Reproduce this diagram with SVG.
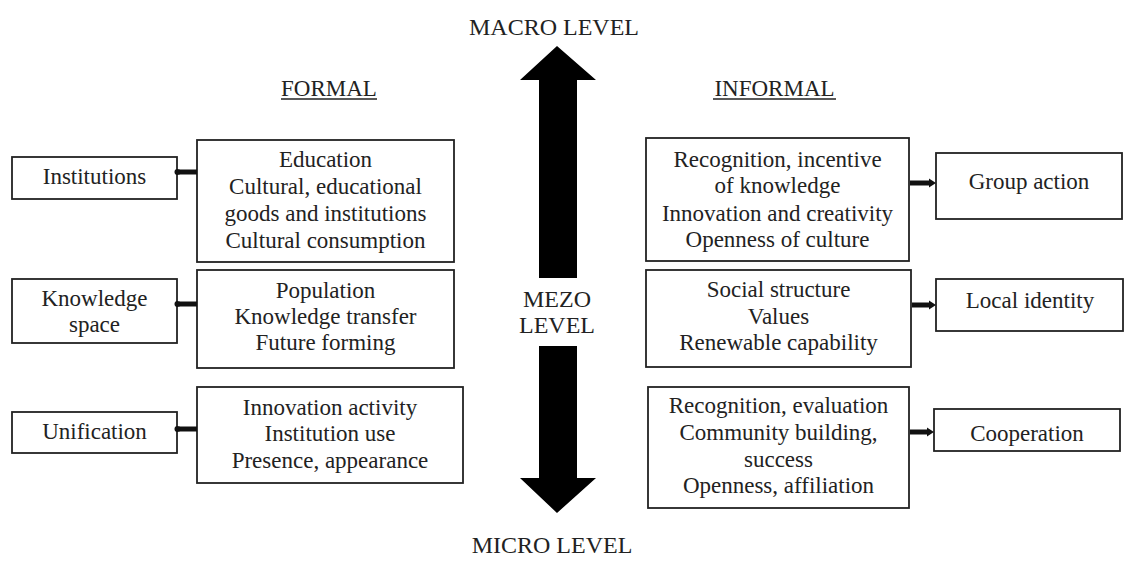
<svg xmlns="http://www.w3.org/2000/svg" width="1125" height="567" viewBox="0 0 1125 567" font-family="'Liberation Serif', 'Times New Roman', serif">
<style>
text{font-family:"Liberation Serif","Times New Roman",serif;font-size:23px;fill:#222;text-anchor:middle}
.lvl{font-size:24px}
rect{fill:#fff;stroke:#222;stroke-width:1.8}
.con{stroke:#111;stroke-width:5;fill:none}
.ul{stroke:#222;stroke-width:1.6}
</style>
<rect x="0" y="0" width="1125" height="567" style="fill:#fff;stroke:none"/>
<g id="labels">
<text class="lvl" x="554" y="35">MACRO LEVEL</text>
<text class="lvl" x="552" y="553">MICRO LEVEL</text>
<text class="lvl" x="557" y="307">MEZO</text>
<text class="lvl" x="557" y="333">LEVEL</text>
<text x="329" y="96">FORMAL</text>
<line class="ul" x1="281" y1="99" x2="377" y2="99"/>
<text x="774.5" y="96">INFORMAL</text>
<line class="ul" x1="713" y1="99" x2="836" y2="99"/>
</g>
<g id="level-arrow">
<polygon points="557,46 596,80 577,80 577,278 539,278 539,80 520,80" fill="#000"/>
<polygon points="557,513 596,478 577,478 577,346 539,346 539,478 520,478" fill="#000"/>
</g>
<g id="institutions"><rect x="12" y="157" width="165" height="42"/><text x="94.5" y="184">Institutions</text></g>
<g id="knowledge-space"><rect x="12" y="279" width="165" height="64"/><text x="94.5" y="306">Knowledge</text><text x="94.5" y="332">space</text></g>
<g id="unification"><rect x="12" y="412" width="165" height="41"/><text x="94.5" y="439">Unification</text></g>
<g id="education"><rect x="197" y="140" width="257" height="122"/>
<text x="325.5" y="167">Education</text><text x="325.5" y="194">Cultural, educational</text><text x="325.5" y="221">goods and institutions</text><text x="325.5" y="248">Cultural consumption</text></g>
<g id="population"><rect x="197" y="270" width="257" height="98"/>
<text x="325.5" y="298">Population</text><text x="325.5" y="324">Knowledge transfer</text><text x="325.5" y="350">Future forming</text></g>
<g id="innovation"><rect x="197" y="387" width="266" height="96"/>
<text x="330" y="415">Innovation activity</text><text x="330" y="441">Institution use</text><text x="330" y="468">Presence, appearance</text></g>
<g id="recognition-incentive"><rect x="646" y="138" width="263" height="123"/>
<text x="777.5" y="167">Recognition, incentive</text><text x="777.5" y="193">of knowledge</text><text x="777.5" y="221">Innovation and creativity</text><text x="777.5" y="247">Openness of culture</text></g>
<g id="social-structure"><rect x="646" y="270" width="265" height="97"/>
<text x="778.5" y="297">Social structure</text><text x="778.5" y="324">Values</text><text x="778.5" y="350">Renewable capability</text></g>
<g id="recognition-evaluation"><rect x="648" y="387" width="261" height="121"/>
<text x="778.5" y="413">Recognition, evaluation</text><text x="778.5" y="440">Community building,</text><text x="778.5" y="467">success</text><text x="778.5" y="493">Openness, affiliation</text></g>
<g id="group-action"><rect x="936" y="153" width="186" height="66"/><text x="1029" y="189">Group action</text></g>
<g id="local-identity"><rect x="936" y="279" width="187" height="52"/><text x="1030" y="308">Local identity</text></g>
<g id="cooperation"><rect x="934" y="409" width="186" height="42"/><text x="1027" y="441">Cooperation</text></g>
<g id="connectors">
<line class="con" x1="197" y1="172" x2="179" y2="172"/><circle cx="177.5" cy="172" r="3" fill="#111"/>
<line class="con" x1="197" y1="304" x2="179" y2="304"/><circle cx="177.5" cy="304" r="3" fill="#111"/>
<line class="con" x1="197" y1="429" x2="179" y2="429"/><circle cx="177.5" cy="429" r="3" fill="#111"/>
<line class="con" x1="910" y1="183" x2="930" y2="183"/><polygon points="929,178.5 936,183 929,187.5" fill="#111"/>
<line class="con" x1="912" y1="305" x2="930" y2="305"/><polygon points="929,300.5 936,305 929,309.5" fill="#111"/>
<line class="con" x1="910" y1="432" x2="928" y2="432"/><polygon points="927,427.5 934,432 927,436.5" fill="#111"/>
</g>
</svg>
